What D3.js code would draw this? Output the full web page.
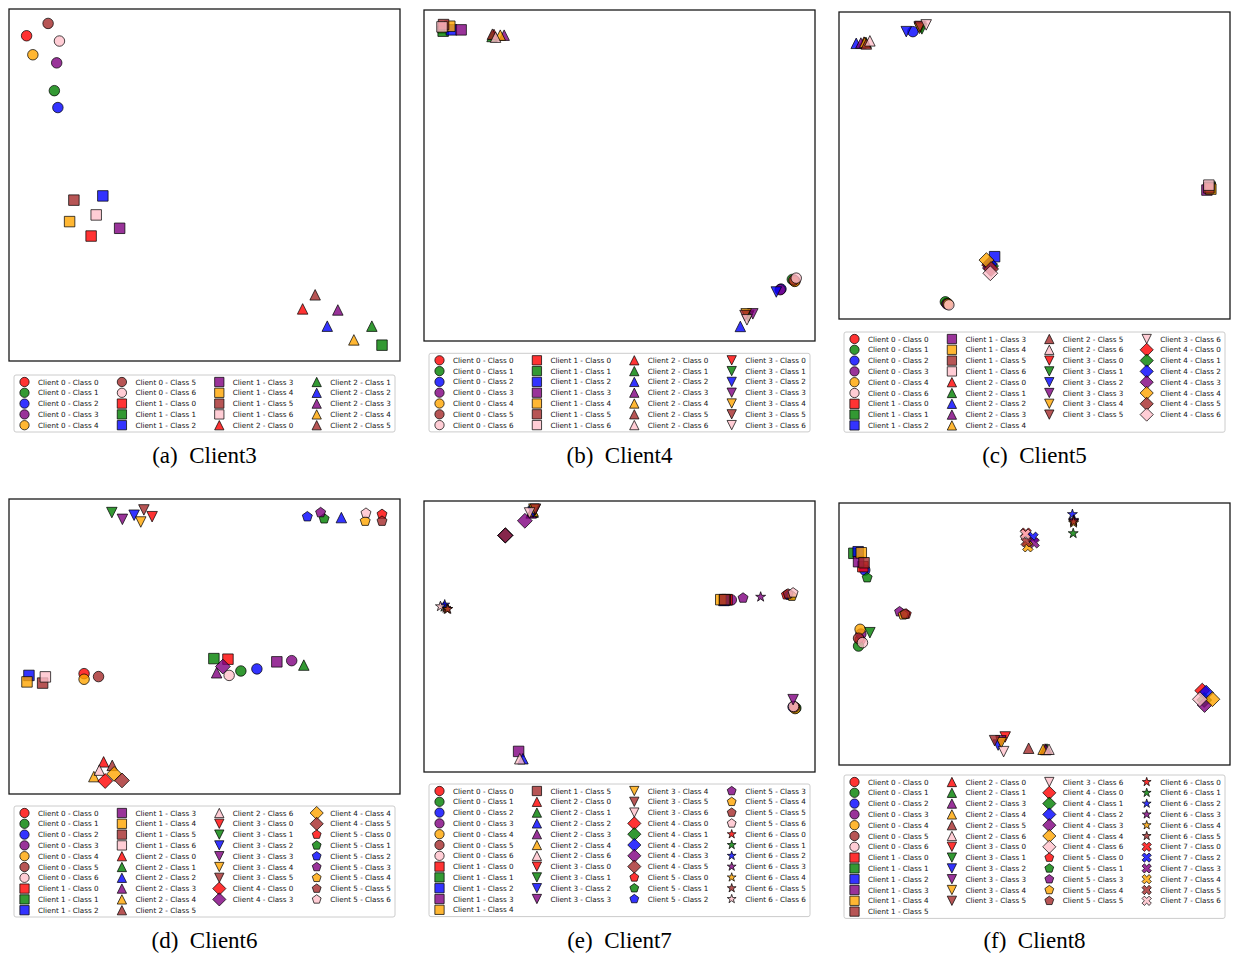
<!DOCTYPE html>
<html><head><meta charset="utf-8">
<script src="https://cdn.jsdelivr.net/npm/d3@7"></script>
<style>body{margin:0;background:#fff} svg{display:block}</style>
</head><body>
<svg id="chart" width="1233" height="953"></svg>
<script>
// ---- data ----
const classColors = ["#ff0000", "#008000", "#0000ff", "#800080", "#ffa500", "#a52a2a", "#ffc0cb"];
const clientMarkers = ["circle", "square", "triangleUp", "triangleDown", "diamond", "pentagon", "star", "xFilled"];
const captionLetters = ["(a)", "(b)", "(c)", "(d)", "(e)", "(f)"];
const captionNames = ["Client3", "Client4", "Client5", "Client6", "Client7", "Client8"];

// each point: [client, class, x, y]  (embedding coordinates, 0-100 in each panel)
const pointsA = [
  [0,0,4.5,92.4],[0,1,11.6,76.8],[0,2,12.5,72.0],[0,3,12.2,84.7],[0,4,6.1,87.0],[0,5,10.0,95.9],[0,6,12.9,90.9],
  [1,0,21.0,35.5],[1,1,95.4,4.5],[1,2,24.0,46.9],[1,3,28.3,37.7],[1,4,15.5,39.6],[1,5,16.6,45.7],[1,6,22.3,41.5],
  [2,0,75.1,14.8],[2,1,92.8,9.9],[2,2,81.4,9.9],[2,3,84.1,14.5],[2,4,88.2,6.0],[2,5,78.3,18.8]
];
const pointsB = [
  [0,0,94.9,18.1],[0,1,94.2,18.6],[0,2,91.3,15.7],[0,3,91.1,15.5],[0,4,94.8,18.0],[0,5,94.6,18.4],[0,6,95.2,19.0],
  [1,0,4.9,94.6],[1,1,4.9,93.6],[1,2,7.0,94.0],[1,3,9.5,94.0],[1,4,6.6,95.1],[1,5,5.0,95.6],[1,6,4.6,94.9],
  [2,0,17.9,92.6],[2,1,17.4,92.0],[2,2,80.9,4.4],[2,3,20.5,92.4],[2,4,19.5,92.4],[2,5,17.5,92.7],[2,6,18.3,91.8],
  [3,0,83.1,7.7],[3,1,82.9,7.3],[3,2,90.1,14.8],[3,3,84.1,8.2],[3,4,82.4,8.2],[3,5,82.1,7.7],[3,6,82.6,6.4]
];
const pointsC = [
  [0,0,27.6,5.2],[0,1,27.2,5.6],[0,2,18.9,93.6],[0,3,27.6,4.9],[0,4,27.9,4.9],[0,6,28.1,4.6],
  [1,0,94.9,42.7],[1,1,94.9,43.0],[1,2,39.8,20.3],[1,3,94.1,42.0],[1,4,95.1,42.3],[1,5,94.6,42.7],[1,6,94.6,43.6],
  [2,0,6.4,90.2],[2,1,6.9,90.1],[2,2,4.4,89.8],[2,3,5.6,89.9],[2,4,6.6,90.1],[2,5,7.0,89.6],[2,6,7.9,90.6],
  [3,0,21.0,95.1],[3,1,21.2,94.5],[3,2,17.2,93.6],[3,3,20.5,95.1],[3,4,20.6,94.7],[3,5,20.7,95.3],[3,6,22.3,95.8],
  [4,0,38.4,17.6],[4,1,38.9,17.3],[4,2,38.6,17.9],[4,3,38.6,16.6],[4,4,37.7,19.2],[4,5,38.9,16.3],[4,6,38.7,14.9]
];
const pointsD = [
  [0,0,19.2,40.8],[0,1,59.3,41.7],[0,2,63.4,42.4],[0,3,72.3,45.2],[0,4,19.2,38.9],[0,5,22.9,39.8],[0,6,56.3,40.2],
  [1,0,56.0,45.7],[1,1,52.4,45.9],[1,2,5.1,40.2],[1,3,68.5,44.8],[1,4,4.6,38.0],[1,5,8.6,37.6],[1,6,9.3,39.7],
  [2,0,24.2,10.9],[2,1,75.4,43.7],[2,2,85.0,93.7],[2,3,53.1,41.1],[2,4,21.7,5.9],[2,5,26.4,9.7],[2,6,23.1,8.1],
  [3,0,36.6,94.0],[3,1,26.3,95.4],[3,2,32.0,94.5],[3,3,29.0,93.1],[3,4,33.7,92.2],[3,5,34.5,96.3],
  [4,0,24.6,4.4],[4,3,54.7,43.2],[4,4,26.9,6.8],[4,5,28.9,4.6],
  [5,0,95.4,94.8],[5,1,80.6,93.3],[5,2,76.3,94.0],[5,3,79.7,95.4],[5,4,91.1,92.5],[5,5,95.4,92.5],[5,6,91.3,95.2]
];
const pointsE = [
  [0,0,94.6,24.0],[0,1,95.1,23.6],[0,2,94.4,24.0],[0,3,78.6,63.5],[0,4,94.9,23.4],[0,5,94.7,24.0],[0,6,94.5,24.2],
  [1,0,77.5,63.6],[1,1,77.0,63.5],[1,2,76.7,63.3],[1,3,24.2,7.6],[1,4,75.9,63.6],[1,5,76.9,63.6],
  [2,0,27.6,95.9],[2,1,27.9,95.9],[2,2,25.3,4.9],[2,3,27.4,95.6],[2,4,27.9,96.3],[2,6,24.5,4.9],
  [3,0,28.4,96.7],[3,1,28.1,96.3],[3,2,27.9,95.9],[3,3,94.4,26.7],[3,4,28.1,97.0],[3,5,28.5,97.0],[3,6,27.0,95.6],
  [4,0,20.8,87.3],[4,1,20.8,87.3],[4,2,20.8,87.3],[4,3,25.8,92.7],[4,5,20.8,87.3],
  [5,0,92.7,65.4],[5,1,93.9,65.1],[5,2,93.4,65.3],[5,3,81.6,64.2],[5,4,94.1,64.9],[5,5,93.1,65.7],[5,6,94.4,66.1],
  [6,0,5.6,60.5],[6,1,5.1,60.9],[6,2,5.3,61.7],[6,3,86.1,64.6],[6,4,5.9,60.1],[6,5,6.1,60.1],[6,6,4.2,61.1]
];
const pointsF = [
  [0,0,5.4,47.7],[0,1,5.0,45.4],[0,2,6.6,74.4],[0,3,5.6,50.0],[0,4,5.4,51.8],[0,5,5.0,48.4],[0,6,6.0,46.7],
  [1,0,6.1,75.7],[1,1,3.8,80.8],[1,2,4.9,81.4],[1,3,5.0,77.6],[1,4,5.7,81.0],[1,5,6.4,77.2],
  [2,0,52.7,6.1],[2,1,53.2,6.1],[2,3,52.9,5.9],[2,4,52.2,6.0],[2,5,48.5,6.4],[2,6,53.7,6.0],
  [3,0,42.5,10.7],[3,1,7.9,50.5],[3,2,40.7,7.6],[3,3,41.4,9.2],[3,4,41.5,8.5],[3,5,39.8,9.3],[3,6,42.1,5.1],
  [4,0,92.9,28.4],[4,1,93.4,24.8],[4,2,93.9,27.6],[4,3,93.5,22.9],[4,4,95.5,25.1],[4,6,92.3,25.1],
  [5,0,17.2,57.6],[5,1,7.2,71.5],[5,3,15.5,58.5],[5,4,16.4,57.3],[5,5,16.9,57.6],
  [6,0,60.0,93.1],[6,1,59.9,88.4],[6,2,59.7,95.7],[6,3,60.0,93.5],[6,4,60.0,92.4],[6,5,60.0,92.9],
  [7,0,47.8,88.5],[7,2,49.6,86.9],[7,3,49.9,84.8],[7,4,48.3,83.3],[7,5,47.9,85.2],[7,6,47.7,88.1]
];

// ---- layout ----
const panels = [
  {pts: pointsA, x0: 9,   y0: 9,   x1: 400,  y1: 361, legRow: 382,   capY: 463},
  {pts: pointsB, x0: 424, y0: 10,  x1: 815,  y1: 341, legRow: 360.3, capY: 463},
  {pts: pointsC, x0: 839, y0: 12,  x1: 1230, y1: 319, legRow: 339,   capY: 463},
  {pts: pointsD, x0: 9,   y0: 499, x1: 400,  y1: 794, legRow: 813,   capY: 948},
  {pts: pointsE, x0: 424, y0: 501, x1: 815,  y1: 772, legRow: 791,   capY: 948},
  {pts: pointsF, x0: 839, y0: 503, x1: 1230, y1: 765, legRow: 782,   capY: 948}
];
const PLOT_SIZE = 10.5, LEG_SIZE = 9.3, ROW_H = 10.8, COL_W = 97.4;

function markerPath(type, S) {
  const h = S / 2;
  const poly = pts => "M" + pts.map(p => p[0].toFixed(2) + "," + p[1].toFixed(2)).join("L") + "Z";
  switch (type) {
    case "circle": return `M${h},0A${h},${h} 0 1,1 ${-h},0A${h},${h} 0 1,1 ${h},0Z`;
    case "square": return poly([[-h,-h],[h,-h],[h,h],[-h,h]]);
    case "triangleUp": return poly([[0,-h],[h,h],[-h,h]]);
    case "triangleDown": return poly([[0,h],[h,-h],[-h,-h]]);
    case "diamond": { const d = S / Math.SQRT2; return poly([[0,-d],[d,0],[0,d],[-d,0]]); }
    case "pentagon": return poly(d3.range(5).map(k => { const a = -Math.PI/2 + k*2*Math.PI/5; return [h*Math.cos(a), h*Math.sin(a)]; }));
    case "star": return poly(d3.range(10).map(k => { const a = -Math.PI/2 + k*Math.PI/5; const r = k % 2 ? h*0.381966 : h; return [r*Math.cos(a), r*Math.sin(a)]; }));
    case "xFilled": return poly([[-1,-2],[0,-1],[1,-2],[2,-1],[1,0],[2,1],[1,2],[0,1],[-1,2],[-2,1],[-1,0],[-2,-1]].map(p => [p[0]*S/4, p[1]*S/4]));
  }
}

const svg = d3.select("#chart");
svg.append("rect").attr("width", 1233).attr("height", 953).attr("fill", "#fff");

function styleMarker(sel) {
  sel.attr("fill", d => classColors[d[1]]).attr("fill-opacity", 0.8)
     .attr("stroke", "#000").attr("stroke-opacity", 0.8).attr("stroke-width", 0.9)
     .attr("stroke-linejoin", "miter");
}

panels.forEach((p, i) => {
  const g = svg.append("g");
  const x = d3.scaleLinear().domain([0, 100]).range([p.x0, p.x1]);
  const y = d3.scaleLinear().domain([0, 100]).range([p.y1, p.y0]);

  // points
  g.append("g").selectAll("path").data(p.pts).join("path")
    .attr("d", d => markerPath(clientMarkers[d[0]], PLOT_SIZE))
    .attr("transform", d => `translate(${x(d[2])},${y(d[3])})`)
    .call(styleMarker);

  // frame
  g.append("rect").attr("x", p.x0).attr("y", p.y0)
    .attr("width", p.x1 - p.x0).attr("height", p.y1 - p.y0)
    .attr("fill", "none").attr("stroke", "#1a1a1a").attr("stroke-width", 1.3);

  // legend
  const n = p.pts.length, ncol = 4;
  const base = Math.floor(n / ncol), extra = n % ncol;
  const rowsPerCol = d3.range(ncol).map(c => base + (c < extra ? 1 : 0));
  const nrows = rowsPerCol[0];
  const entries = [];
  let idx = 0;
  rowsPerCol.forEach((cnt, c) => { for (let r = 0; r < cnt; r++) entries.push({d: p.pts[idx++], c, r}); });
  const lx = p.x0 + 5, lw = (p.x1 - 5) - lx;
  const ly = p.legRow - 7, lh = (nrows - 1) * ROW_H + 13.8;
  const lg = g.append("g");
  lg.append("rect").attr("x", lx).attr("y", ly).attr("width", lw).attr("height", lh)
    .attr("rx", 2).attr("fill", "#fff").attr("fill-opacity", 0.8)
    .attr("stroke", "#cccccc").attr("stroke-width", 1);
  const items = lg.selectAll("g.item").data(entries).join("g").attr("class", "item")
    .attr("transform", e => `translate(${lx + 10.5 + e.c * COL_W},${p.legRow + e.r * ROW_H})`);
  items.append("path").datum(e => e.d)
    .attr("d", d => markerPath(clientMarkers[d[0]], LEG_SIZE))
    .call(styleMarker);
  items.append("text").attr("x", 13.5).attr("y", 0).attr("dy", "0.35em")
    .attr("font-family", "DejaVu Sans").attr("font-size", 7.2).attr("fill", "#111")
    .text(e => `Client ${e.d[0]} - Class ${e.d[1]}`);

  // caption
  svg.append("text").attr("x", (p.x0 + p.x1) / 2).attr("y", p.capY)
    .attr("text-anchor", "middle").attr("font-family", "Liberation Serif, Times New Roman, serif")
    .attr("font-size", 23).attr("fill", "#000")
    .text(captionLetters[i] + "\u2002" + captionNames[i]);
});
</script>
</body></html>
